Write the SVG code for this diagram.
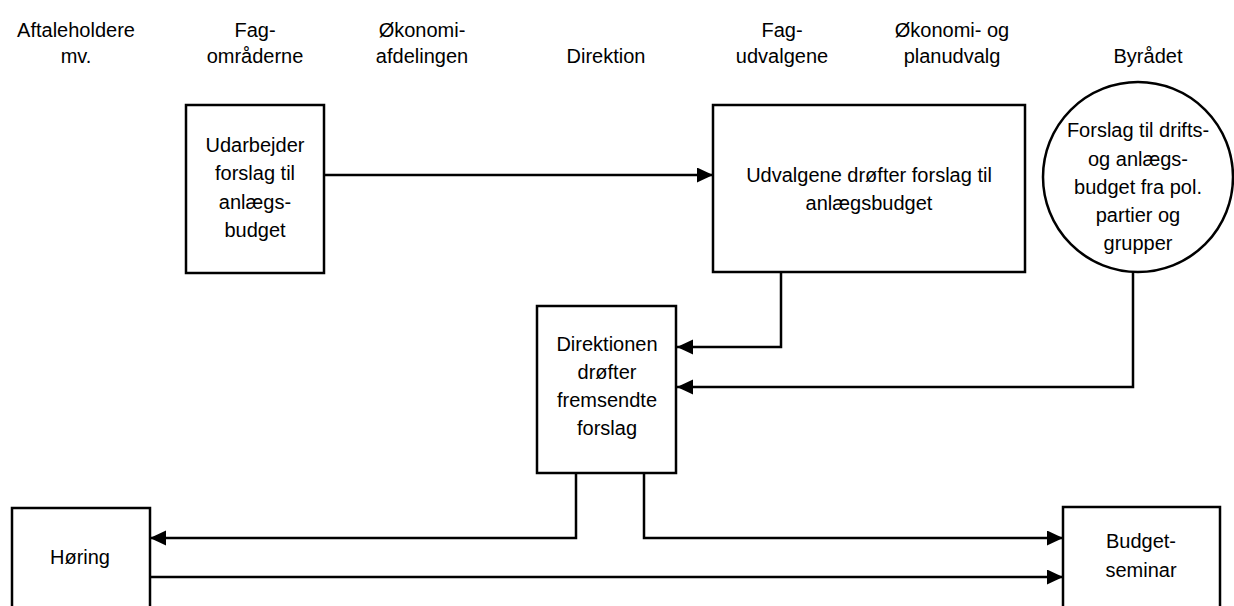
<svg xmlns="http://www.w3.org/2000/svg" width="1234" height="606" viewBox="0 0 1234 606">
<style>
text{font-family:"Liberation Sans",Arial,sans-serif;font-size:20px;fill:#000;text-anchor:middle}
.box{fill:#fff;stroke:#000;stroke-width:2.5}
.con{fill:none;stroke:#000;stroke-width:2.5}
</style>
<defs>
<marker id="ah" markerUnits="userSpaceOnUse" markerWidth="16" markerHeight="16" refX="16" refY="7.5" orient="auto">
<path d="M0,0 L16,7.5 L0,15 Z" fill="#000"/>
</marker>
</defs>
<rect width="1234" height="606" fill="#fff"/>
<g id="headers">
<text x="76" y="37">Aftaleholdere</text><text x="76" y="63">mv.</text>
<text x="255" y="37">Fag-</text><text x="255" y="63">områderne</text>
<text x="422" y="37">Økonomi-</text><text x="422" y="63">afdelingen</text>
<text x="606" y="63">Direktion</text>
<text x="782" y="37">Fag-</text><text x="782" y="63">udvalgene</text>
<text x="952" y="37">Økonomi- og</text><text x="952" y="63">planudvalg</text>
<text x="1148" y="63">Byrådet</text>
</g>
<g id="connectors">
<path class="con" d="M324,175 H713" marker-end="url(#ah)"/>
<path class="con" d="M781,272 V347 H677" marker-end="url(#ah)"/>
<path class="con" d="M1133,272 V387 H677" marker-end="url(#ah)"/>
<path class="con" d="M576,473 V538 H150" marker-end="url(#ah)"/>
<path class="con" d="M644,473 V538 H1063" marker-end="url(#ah)"/>
<path class="con" d="M150,577 H1063" marker-end="url(#ah)"/>
</g>
<g id="n-udarbejder">
<rect class="box" x="186" y="105" width="138" height="168"/>
<text x="255" y="152">Udarbejder</text>
<text x="255" y="180">forslag til</text>
<text x="255" y="209">anlægs-</text>
<text x="255" y="237">budget</text>
</g>
<g id="n-udvalgene">
<rect class="box" x="713" y="105" width="312" height="167"/>
<text x="869" y="182">Udvalgene drøfter forslag til</text>
<text x="869" y="210">anlægsbudget</text>
</g>
<g id="n-forslag">
<circle class="box" cx="1138" cy="177" r="95"/>
<text x="1138" y="137">Forslag til drifts-</text>
<text x="1138" y="166">og anlægs-</text>
<text x="1138" y="194">budget fra pol.</text>
<text x="1138" y="222">partier og</text>
<text x="1138" y="250">grupper</text>
</g>
<g id="n-direktionen">
<rect class="box" x="537" y="306" width="139" height="167"/>
<text x="607" y="351">Direktionen</text>
<text x="607" y="379">drøfter</text>
<text x="607" y="407">fremsendte</text>
<text x="607" y="435">forslag</text>
</g>
<g id="n-horing">
<rect class="box" x="12" y="508" width="138" height="110"/>
<text x="80" y="564">Høring</text>
</g>
<g id="n-budgetseminar">
<rect class="box" x="1063" y="507" width="157" height="110"/>
<text x="1141" y="548">Budget-</text>
<text x="1141" y="577">seminar</text>
</g>
</svg>
